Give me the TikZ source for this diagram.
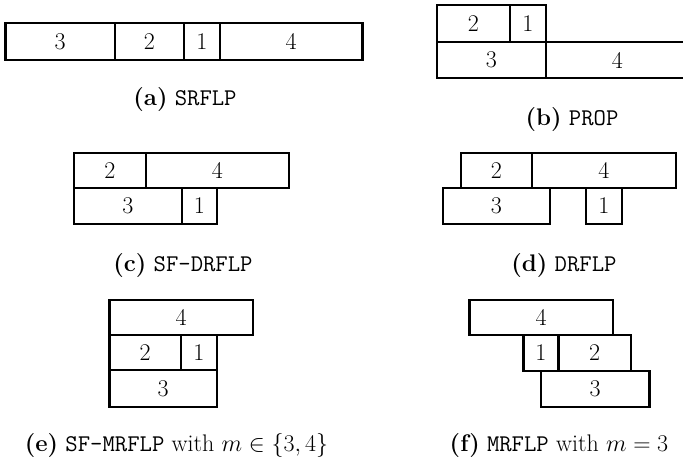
\RequirePackage{fix-cm}
\documentclass[tikz,border=0pt]{standalone}
\usepackage{fontspec}
\begin{document}
\begin{tikzpicture}[x=1pt,y=-1pt,
  every node/.append style={font=\fontsize{24}{29}\selectfont, inner sep=0pt},
  fac/.style={draw=black, line width=2.8pt, rectangle, minimum height=36pt},
  subcap/.style={anchor=base}]
\useasboundingbox (0,0) rectangle (683,463);
% (a)
\node[fac, minimum width=109.5pt, minimum height=37pt] (a3) at (60.25,41.5) {3};
\node[fac, minimum width=69pt, minimum height=37pt] (a2) at (149.5,41.5) {2};
\node[fac, minimum width=36pt, minimum height=37pt] (a1) at (202,41.5) {1};
\node[fac, minimum width=142.5pt, minimum height=37pt] (a4) at (291.25,41.5) {4};
\node[subcap] (capa) at (185,105) {\textbf{(a)} \texttt{SRFLP}};
% (b)
\node[fac, minimum width=73pt, minimum height=37pt] (b2) at (473.5,23.5) {2};
\node[fac, minimum width=36pt, minimum height=37pt] (b1) at (528,23.5) {1};
\node[fac, minimum width=109pt] (b3) at (491.5,60) {3};
\node[fac, minimum width=143pt] (b4) at (617.5,60) {4};
\node[subcap] (capb) at (572,125) {\textbf{(b)} \texttt{PROP}};
% (c)
\node[fac, minimum width=72pt, minimum height=35pt] (c2) at (110,170.5) {2};
\node[fac, minimum width=143pt, minimum height=35pt] (c4) at (217.5,170.5) {4};
\node[fac, minimum width=108pt] (c3) at (128,206) {3};
\node[fac, minimum width=35pt] (c1) at (199.5,206) {1};
\node[subcap] (capc) at (183,271) {\textbf{(c)} \texttt{SF-DRFLP}};
% (d)
\node[fac, minimum width=71pt, minimum height=35pt] (d2) at (496.5,170.5) {2};
\node[fac, minimum width=144pt, minimum height=35pt] (d4) at (604,170.5) {4};
\node[fac, minimum width=107pt] (d3) at (496.5,206) {3};
\node[fac, minimum width=36pt] (d1) at (604,206) {1};
\node[subcap] (capd) at (564,271) {\textbf{(d)} \texttt{DRFLP}};
% (e)
\node[fac, minimum width=143.5pt, minimum height=35pt] (e4) at (181.25,317.5) {4};
\node[fac, minimum width=71.5pt, minimum height=35pt] (e2) at (145.25,352.5) {2};
\node[fac, minimum width=36pt, minimum height=35pt] (e1) at (199,352.5) {1};
\node[fac, minimum width=107.5pt, minimum height=37pt] (e3) at (163.25,388.5) {3};
\node[subcap] (cape) at (176.5,451) {\textbf{(e)} \texttt{SF-MRFLP} with $m\in\{3,4\}$};
% (f)
\node[fac, minimum width=143.5pt, minimum height=35pt] (f4) at (541.25,317.5) {4};
\node[fac, minimum width=35pt] (f1) at (541,353) {1};
\node[fac, minimum width=72.5pt] (f2) at (594.75,353) {2};
\node[fac, minimum width=108.5pt] (f3) at (595.25,389) {3};
\node[subcap] (capf) at (559,451) {\textbf{(f)} \texttt{MRFLP} with $m=3$};
\end{tikzpicture}
\end{document}
